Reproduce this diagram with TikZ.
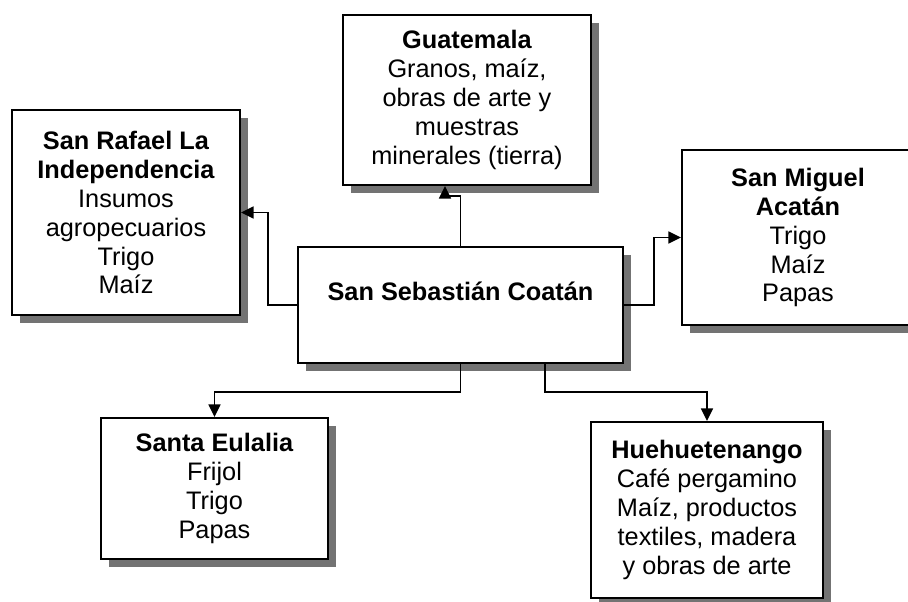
\documentclass[tikz,border=0pt]{standalone}
\usepackage{fontspec}
\setmainfont{Liberation Sans}
\usetikzlibrary{arrows.meta,shadows}

\begin{document}
\begin{tikzpicture}[x=0.025cm,y=-0.025cm,
  caja/.style={draw,line width=1.4pt,fill=white,align=center,inner sep=0pt,
    font=\fontsize{18}{20.6}\selectfont,
    drop shadow={shadow xshift=6pt,shadow yshift=-6pt,fill=black!55,opacity=1}},
  flecha/.style={line width=1.3pt,-{Triangle[length=9pt,width=8.5pt]}}]
  \useasboundingbox (0,0) rectangle (908,601);
  \node[caja,minimum width=8.125cm,minimum height=2.9cm,text height=13pt,text depth=20pt]
    (ctr) at (460.5,305) {\textbf{San Sebastián Coatán}};
  \node[caja,minimum width=5.7cm,minimum height=5.125cm] (rafael) at (126,212.5)
    {\textbf{San Rafael La}\\\textbf{Independencia}\\Insumos\\agropecuarios\\Trigo\\Maíz};
  \node[caja,minimum width=6.2cm,minimum height=4.25cm] (guate) at (467,100)
    {\textbf{Guatemala}\\Granos, maíz,\\obras de arte y\\muestras\\minerales (tierra)};
  \node[caja,minimum width=5.8cm,minimum height=4.375cm] (miguel) at (798,237.5)
    {\textbf{San Miguel}\\\textbf{Acatán}\\Trigo\\Maíz\\Papas};
  \node[caja,minimum width=5.675cm,minimum height=3.525cm] (eulalia) at (214.5,488.5)
    {\textbf{Santa Eulalia}\\Frijol\\Trigo\\Papas};
  \node[caja,minimum width=5.8cm,minimum height=4.4cm] (huehue) at (707,510)
    {\textbf{Huehuetenango}\\Café pergamino\\Maíz,  productos\\textiles,  madera\\y obras de arte};
  \draw[flecha] (ctr.north) -- ++(0,-50) -| ([xshift=-0.55cm]guate.south);
  \draw[flecha] (ctr.west) -- ++(-29,0) |- (rafael.east);
  \draw[flecha] (ctr.east) -- ++(30,0) |- (miguel.west);
  \draw[flecha] (ctr.south) -- ++(0,28) -| (eulalia.north);
  \draw[flecha] ([xshift=2.11cm]ctr.south) -- ++(0,28) -| (huehue.north);
\end{tikzpicture}
\end{document}
